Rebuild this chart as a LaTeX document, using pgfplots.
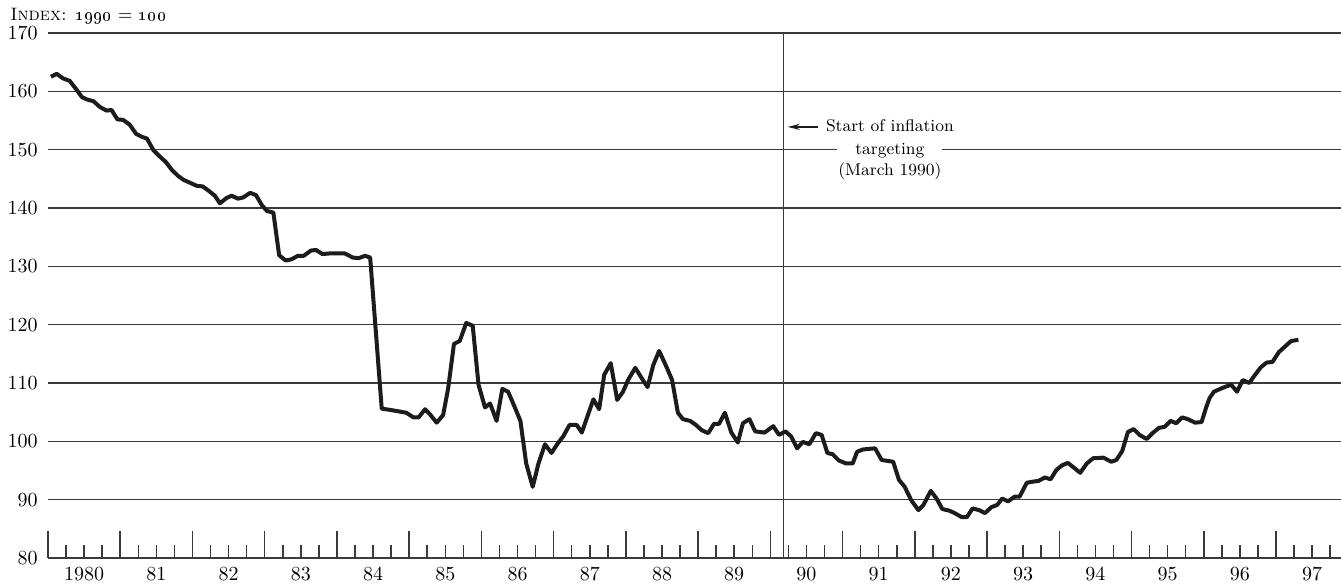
\documentclass[border=0pt]{standalone}
\usepackage{pgfplots}
\pgfplotsset{compat=1.18}
\usetikzlibrary{arrows.meta}
\definecolor{gridc}{HTML}{3A3A3A}
\definecolor{linec}{HTML}{1C1C1C}
\begin{document}
\begin{tikzpicture}
\begin{axis}[
  scale only axis,
  width=646.5pt, height=262.5pt,
  xmin=1980, xmax=1997.9,
  ymin=80, ymax=170,
  ytick={80,90,...,170},
  xtick={1980,1981,...,1997},
  xticklabels={},
  minor xtick={1980.25,1980.5,1980.75,1981.25,1981.5,1981.75,1982.25,1982.5,1982.75,1983.25,1983.5,1983.75,1984.25,1984.5,1984.75,1985.25,1985.5,1985.75,1986.25,1986.5,1986.75,1987.25,1987.5,1987.75,1988.25,1988.5,1988.75,1989.25,1989.5,1989.75,1990.25,1990.5,1990.75,1991.25,1991.5,1991.75,1992.25,1992.5,1992.75,1993.25,1993.5,1993.75,1994.25,1994.5,1994.75,1995.25,1995.5,1995.75,1996.25,1996.5,1996.75,1997.25,1997.5,1997.75},
  axis x line*=bottom,
  axis y line*=left,
  y axis line style={draw=none},
  x axis line style={draw=gridc, line width=0.75pt},
  ytick style={draw=none},
  xtick align=inside,
  xtick style={draw=gridc, line width=0.75pt},
  major tick length=13.5pt,
  minor tick length=6.5pt,
  ymajorgrids,
  major grid style={draw=gridc, line width=0.75pt},
  yticklabel style={xshift=-1.7pt},
  extra x ticks={1980.5,1981.5,1982.5,1983.5,1984.5,1985.5,1986.5,1987.5,1988.5,1989.5,1990.5,1991.5,1992.5,1993.5,1994.5,1995.5,1996.5,1997.5},
  extra x tick labels={1980,81,82,83,84,85,86,87,88,89,90,91,92,93,94,95,96,97},
  extra x tick style={major tick length=0pt, grid=none, xticklabel style={yshift=-1.2pt}},
  clip=false,
]
\coordinate (bl) at (rel axis cs:0,0);
\coordinate (tr) at (rel axis cs:1,1);
% March 1990 marker
\addplot[draw=gridc, line width=0.65pt] coordinates {(1990.18,80) (1990.18,170)};
% index
\addplot[draw=linec, line width=2pt, line join=round, mark=none] coordinates {
(1980.04,162.5) (1980.12,163.0) (1980.21,162.2) (1980.30,161.8) (1980.40,160.2)
(1980.47,159.0) (1980.54,158.6) (1980.63,158.3) (1980.72,157.3) (1980.81,156.7)
(1980.88,156.8) (1980.96,155.2) (1981.04,155.1) (1981.13,154.3) (1981.22,152.7)
(1981.30,152.2) (1981.37,151.9) (1981.46,149.9) (1981.55,148.8) (1981.63,147.9)
(1981.71,146.6) (1981.80,145.5) (1981.88,144.8) (1981.97,144.3) (1982.06,143.8)
(1982.14,143.7) (1982.22,143.0) (1982.31,142.1) (1982.38,140.8) (1982.47,141.7)
(1982.54,142.1) (1982.63,141.6) (1982.70,141.8) (1982.80,142.6) (1982.88,142.2)
(1982.96,140.5) (1983.03,139.5) (1983.12,139.2) (1983.20,131.9) (1983.29,131.0)
(1983.37,131.2) (1983.46,131.8) (1983.54,131.8) (1983.64,132.7) (1983.71,132.8)
(1983.80,132.1) (1983.89,132.2) (1983.99,132.2) (1984.11,132.2) (1984.22,131.5)
(1984.30,131.4) (1984.39,131.8) (1984.46,131.5)
(1984.62,105.6) (1984.73,105.4) (1984.87,105.1) (1984.96,104.9) (1985.06,104.1)
(1985.13,104.1) (1985.22,105.5) (1985.29,104.6) (1985.38,103.2) (1985.47,104.5)
(1985.54,109.1) (1985.62,116.7) (1985.70,117.2) (1985.79,120.3) (1985.88,119.8)
(1985.96,109.7) (1986.05,105.8) (1986.12,106.5) (1986.21,103.5) (1986.29,109.0)
(1986.37,108.5) (1986.46,105.9) (1986.54,103.5) (1986.62,96.2) (1986.71,92.2)
(1986.79,96.2) (1986.88,99.5) (1986.97,98.0) (1987.06,99.7) (1987.13,100.8)
(1987.22,102.8) (1987.32,102.8) (1987.39,101.5) (1987.46,104.0) (1987.55,107.2)
(1987.63,105.5) (1987.70,111.4) (1987.79,113.4) (1987.88,107.1) (1987.96,108.5)
(1988.03,110.5) (1988.13,112.6) (1988.22,110.8) (1988.30,109.3) (1988.38,113.1)
(1988.46,115.5) (1988.55,113.1) (1988.64,110.5) (1988.72,104.9) (1988.79,103.8)
(1988.89,103.5) (1988.97,102.8) (1989.05,101.9) (1989.14,101.4) (1989.22,103.0)
(1989.29,103.0) (1989.37,104.9) (1989.46,101.5) (1989.55,99.8)
(1989.62,103.1) (1989.71,103.8) (1989.79,101.7) (1989.92,101.5) (1990.04,102.6)
(1990.12,101.1) (1990.21,101.7) (1990.29,100.8) (1990.37,98.8) (1990.45,99.9)
(1990.54,99.5) (1990.63,101.4) (1990.71,101.1) (1990.79,98.0) (1990.86,97.8)
(1990.95,96.7) (1991.05,96.2) (1991.14,96.2) (1991.20,98.2) (1991.28,98.6)
(1991.45,98.8) (1991.54,96.8) (1991.70,96.5) (1991.78,93.4) (1991.86,92.2)
(1991.95,89.9) (1992.05,88.2)
(1992.12,89.1) (1992.22,91.5) (1992.30,90.2) (1992.38,88.4) (1992.48,88.1)
(1992.55,87.7) (1992.65,87.0) (1992.72,87.0) (1992.80,88.5) (1992.89,88.2)
(1992.97,87.7) (1993.06,88.7) (1993.14,89.1) (1993.21,90.2) (1993.29,89.7)
(1993.38,90.5) (1993.45,90.5) (1993.55,92.9) (1993.64,93.1) (1993.71,93.2)
(1993.80,93.8) (1993.88,93.5) (1993.96,95.1) (1994.04,95.9) (1994.12,96.3)
(1994.20,95.5) (1994.29,94.6)
(1994.38,96.2) (1994.47,97.1) (1994.61,97.2) (1994.72,96.5) (1994.79,96.8)
(1994.87,98.3) (1994.95,101.6) (1995.03,102.1) (1995.11,101.1) (1995.21,100.4)
(1995.30,101.5) (1995.38,102.3) (1995.46,102.5) (1995.54,103.5) (1995.62,103.1)
(1995.70,104.1) (1995.78,103.8) (1995.88,103.2) (1995.97,103.3) (1996.03,105.7)
(1996.08,107.4) (1996.14,108.5) (1996.23,109.0) (1996.31,109.4) (1996.38,109.7)
(1996.46,108.5) (1996.54,110.5) (1996.63,110.0) (1996.71,111.4) (1996.79,112.7)
(1996.87,113.5) (1996.95,113.6) (1997.04,115.3) (1997.12,116.2) (1997.21,117.2)
(1997.31,117.4)
};
% annotation
\draw[-{Stealth[length=6pt,width=3pt]}, line width=0.8pt, draw=linec]
  (axis cs:1990.66,153.9) -- (axis cs:1990.24,153.9);
\node[anchor=base, inner sep=0pt, font=\fontsize{8.5}{10}\selectfont]
  at (axis cs:1991.655,153.08) {Start of inflation};
\node[anchor=base, fill=white, inner xsep=9pt, inner ysep=1.5pt, font=\fontsize{8.5}{10}\selectfont]
  at (axis cs:1991.655,149.25) {targeting};
\node[anchor=base, inner sep=0pt, font=\fontsize{8.5}{10}\selectfont]
  at (axis cs:1991.655,145.65) {(March 1990)};
\node[anchor=base west, inner sep=0pt, font=\fontsize{9}{11}\selectfont]
  at ([xshift=-19pt,yshift=6.2pt]rel axis cs:0,1) {\textsc{Index:} \oldstylenums{1990} = \oldstylenums{100}};
\end{axis}
\pgfresetboundingbox
\path ([shift={(-24pt,-13pt)}]bl) rectangle ([shift={(0pt,16.5pt)}]tr);
\end{tikzpicture}
\end{document}
